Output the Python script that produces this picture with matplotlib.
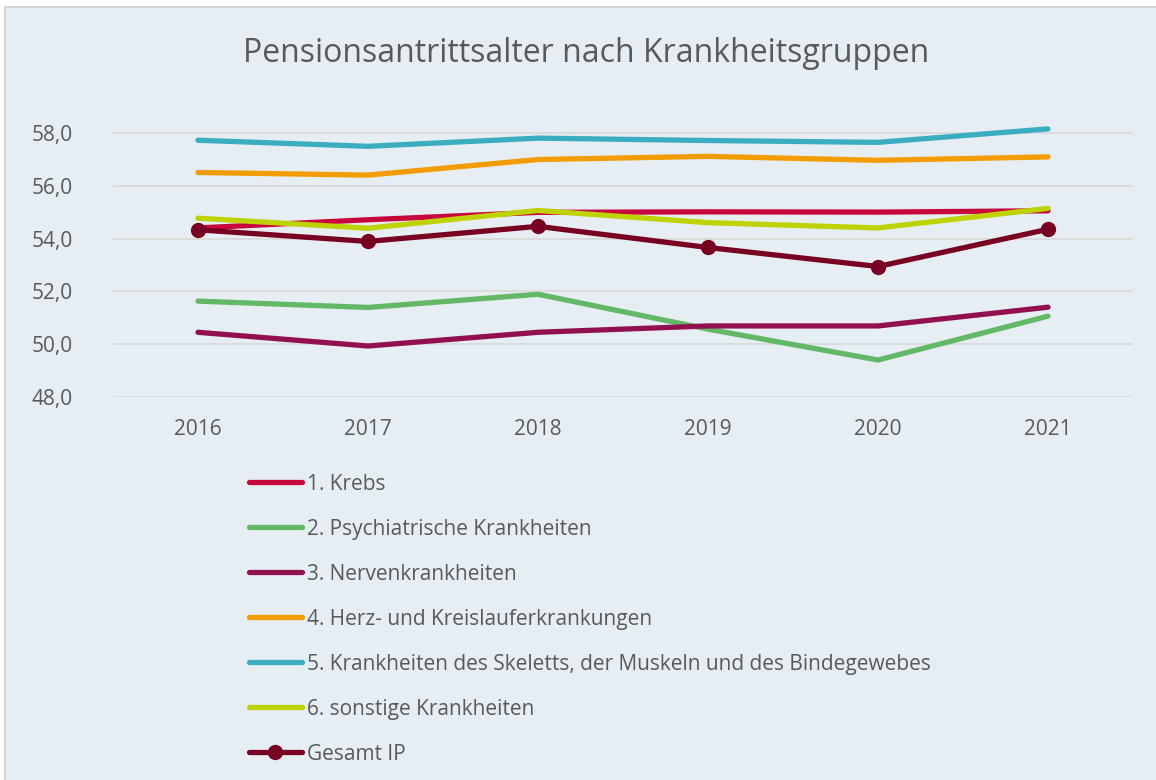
import matplotlib.pyplot as plt
from matplotlib.patches import Rectangle

years = [2016, 2017, 2018, 2019, 2020, 2021]
krebs = [54.40, 54.71, 54.99, 55.01, 55.00, 55.05]
psych = [51.63, 51.39, 51.89, 50.57, 49.40, 51.06]
nerven = [50.45, 49.93, 50.45, 50.69, 50.69, 51.40]
herz = [56.50, 56.40, 56.99, 57.11, 56.96, 57.09]
skelett = [57.72, 57.49, 57.80, 57.71, 57.64, 58.15]
sonstige = [54.77, 54.39, 55.06, 54.60, 54.40, 55.14]
gesamt = [54.33, 53.89, 54.46, 53.66, 52.94, 54.35]

labels = ["1. Krebs", "2. Psychiatrische Krankheiten", "3. Nervenkrankheiten",
          "4. Herz- und Kreislauferkrankungen",
          "5. Krankheiten des Skeletts, der Muskeln und des Bindegewebes",
          "6. sonstige Krankheiten", "Gesamt IP"]
colors = ["#C8063E", "#62B866", "#931050", "#F39C00", "#3AADC0", "#BED200", "#780022"]
series = [krebs, psych, nerven, herz, skelett, sonstige, gesamt]

plt.rcParams['font.family'] = ['Open Sans', 'DejaVu Sans']
bg = "#E6EEF3"
txt = "#595959"

fig = plt.figure(figsize=(11.56, 7.8), dpi=100)
fig.patch.set_facecolor("white")
# chart frame (cut at right and bottom like the screenshot)
fig.patches.append(Rectangle((5 / 1156, -0.05), 1.1, 1 - 7 / 780 + 0.05, transform=fig.transFigure,
                             facecolor=bg, edgecolor="#D4D4D4", linewidth=1.5, zorder=-5))

ax = fig.add_axes([113 / 1156, 1 - 397 / 780, 1020 / 1156, (397 - 117) / 780])
ax.set_facecolor("none")
ax.set_zorder(2)

# draw order: total last
order = [4, 3, 1, 2, 0, 5, 6]
handles = [None] * len(series)
for i in order:
    if i == 6:
        h, = ax.plot(years, series[i], color=colors[i], linewidth=3.8, marker="o",
                     markersize=10, solid_capstyle="round", zorder=3 + i)
    else:
        h, = ax.plot(years, series[i], color=colors[i], linewidth=3.8,
                     solid_capstyle="round", zorder=3 + i)
    handles[i] = h

ax.set_xlim(2015.5, 2021.5)
ax.set_ylim(48, 58.6)
ax.set_yticks([48, 50, 52, 54, 56, 58])
ax.set_yticklabels([f"{v:.1f}".replace(".", ",") for v in [48, 50, 52, 54, 56, 58]])
ax.set_xticks(years)
ax.set_xticklabels([str(y) for y in years])
ax.yaxis.grid(True, color="#D9D9D9", linewidth=1.3)
ax.set_axisbelow(True)
for s in ax.spines.values():
    s.set_visible(False)
ax.tick_params(axis="both", length=0, labelsize=15, labelcolor=txt)
ax.tick_params(axis="y", pad=29)
ax.tick_params(axis="x", pad=16)

fig.text(586 / 1156, 1 - 53 / 780, "Pensionsantrittsalter nach Krankheitsgruppen",
         ha="center", va="center", fontsize=23, color=txt)

leg = fig.legend(handles, labels, loc="upper left", bbox_to_anchor=(230 / 1156, 1 - 455 / 780),
                 frameon=False, fontsize=15, handlelength=2.55, handletextpad=0.25,
                 labelspacing=1.15, labelcolor=txt)

fig.savefig("out.png", dpi=100, facecolor=fig.get_facecolor())
